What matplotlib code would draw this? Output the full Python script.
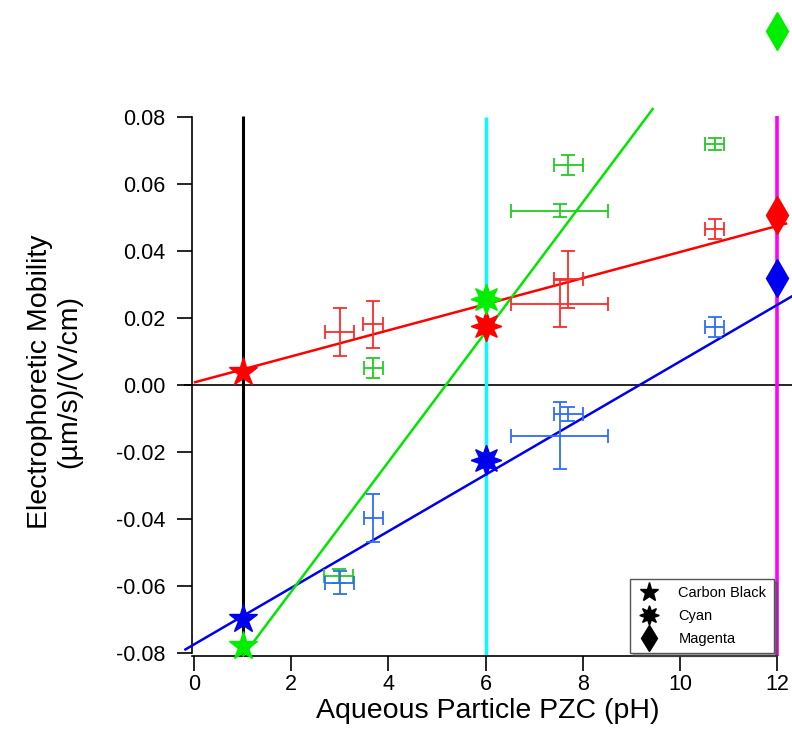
import matplotlib
matplotlib.use("Agg")
import matplotlib.pyplot as plt
from matplotlib.lines import Line2D
import numpy as np

plt.rcParams['font.family'] = ['Liberation Sans', 'DejaVu Sans']

# ---------------- data ----------------
# error-bar measurements (x = PZC, y = mobility)
red_x = [3.0, 3.68, 7.52, 7.70, 10.71]
red_y = [0.0159, 0.0182, 0.0244, 0.0316, 0.0467]
red_xerr = [0.3, 0.2, 1.0, 0.3, 0.2]
red_yerr = [0.0073, 0.007, 0.007, 0.0085, 0.003]

green_x = [2.98, 3.69, 7.52, 7.70, 10.71]
green_y = [-0.057, 0.005, 0.0522, 0.0659, 0.0721]
green_xerr = [0.3, 0.2, 1.0, 0.3, 0.2]
green_yerr = [0.002, 0.003, 0.002, 0.003, 0.0018]

blue_x = [3.0, 3.69, 7.52, 7.70, 10.71]
blue_y = [-0.059, -0.0397, -0.0151, -0.0086, 0.0173]
blue_xerr = [0.3, 0.2, 1.0, 0.3, 0.2]
blue_yerr = [0.0035, 0.0071, 0.01, 0.002, 0.003]

# pigment markers: position (PZC) and mobility for red/blue/green series
pigments = ["Carbon Black", "Cyan", "Magenta"]
pigment_pzc = [1, 6, 12]
pigment_red = [0.0039, 0.0176, 0.051]
pigment_blue = [-0.070, -0.0223, 0.0319]
pigment_green = [-0.0781, 0.0256, 0.106]

# linear fits: intercept, slope, x-range
red_fit = (0.0008, 0.0039, [0.0, 12.2])
blue_fit = (-0.0775, 0.00846, [-0.2, 12.4])
green_fit = (-0.1005, 0.0194, [1.0, 9.45])

# ---------------- figure ----------------
fig = plt.figure(figsize=(7.92, 7.46), dpi=100)
ax = fig.add_axes([0.2327, 0.1182, 0.7673, 0.74])
ax.set_xlim(-0.2, 12.3)
ax.set_ylim(-0.0815, 0.0835)

# vertical reference lines
ax.vlines(pigment_pzc[0], -0.081, 0.0805, color='black', lw=2.2, zorder=2)
ax.vlines(pigment_pzc[1], -0.081, 0.08, color='#00ffff', lw=2.4, zorder=2)
ax.vlines(pigment_pzc[2], -0.081, 0.0805, color='#ff00ff', lw=2.6, zorder=2)
ax.axhline(0, color='black', lw=1.2, zorder=1)

# fit lines
for (b, m, xr), c in [(red_fit, '#ff0000'), (blue_fit, '#0000f0'), (green_fit, '#00e600')]:
    xs = np.array(xr)
    ax.plot(xs, b + m * xs, color=c, lw=1.8, zorder=3, solid_capstyle='butt')

# error bars
for xs, ys, xe, ye, c in [(red_x, red_y, red_xerr, red_yerr, '#ff2a2a'),
                          (green_x, green_y, green_xerr, green_yerr, '#22cc22'),
                          (blue_x, blue_y, blue_xerr, blue_yerr, '#2d6bff')]:
    ax.errorbar(xs, ys, xerr=xe, yerr=ye, fmt='none', ecolor=c,
                elinewidth=1.3, capsize=5, capthick=1.3, zorder=4)

# markers
markers = ['*', (8, 1, 0), 'd']
sizes = [21, 22, 19]
for i in range(3):
    for vals, c in [(pigment_red, '#ff0000'), (pigment_blue, '#0000f0'), (pigment_green, '#00ee00')]:
        ax.plot(pigment_pzc[i], vals[i], marker=markers[i], ms=sizes[i], color=c,
                mec=c, lw=0, zorder=5, clip_on=False)

# axes styling (Igor-like)
for s in ['top', 'right']:
    ax.spines[s].set_visible(False)
ax.spines['left'].set_position(('data', -0.047))
ax.spines['bottom'].set_position(('data', -0.081))
ax.spines['left'].set_bounds(-0.08, 0.08)
ax.spines['bottom'].set_bounds(-0.047, 12)
for s in ['left', 'bottom']:
    ax.spines[s].set_linewidth(1.2)
ax.set_xticks([0, 2, 4, 6, 8, 10, 12])
yt = [-0.08, -0.06, -0.04, -0.02, 0.0, 0.02, 0.04, 0.06, 0.08]
ax.set_yticks(yt)
ax.set_yticklabels([f"{v:.2f}" for v in yt])
ax.tick_params(direction='out', length=11, width=1.2, labelsize=15.5)
ax.tick_params(axis='y', pad=8)
ax.tick_params(axis='x', pad=2)

ax.set_xlabel("Aqueous Particle PZC (pH)", fontsize=20.5, labelpad=2)
ax.set_ylabel("Electrophoretic Mobility\n(\u00b5m/s)/(V/cm)", fontsize=20.5, labelpad=24,
              linespacing=1.2)

handles = [Line2D([], [], marker=markers[i], color='black', lw=0, ms=[14, 14, 13][i])
           for i in range(3)]
leg = ax.legend(handles, pigments, loc='lower right', bbox_to_anchor=(0.970, 0.0087),
                borderaxespad=0, fancybox=False, shadow=True, fontsize=10.5,
                edgecolor='#555555', handletextpad=1.2, labelspacing=0.6,
                borderpad=0.5, framealpha=1, handlelength=1.6)
leg.get_frame().set_linewidth(1.0)

fig.savefig("out.png", dpi=100)
